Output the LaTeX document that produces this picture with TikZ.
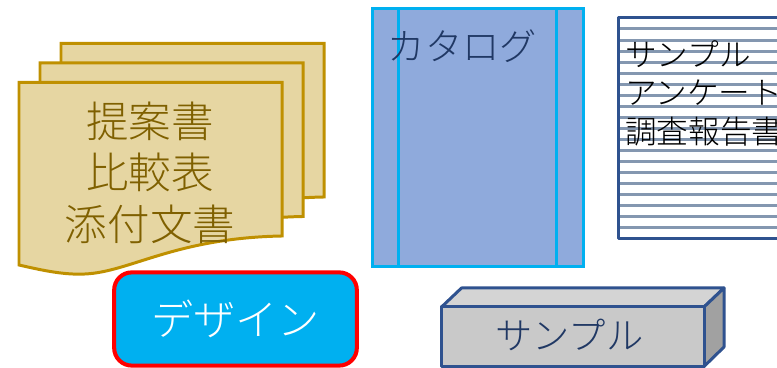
\documentclass[tikz,border=0pt]{standalone}
\usepackage{fontspec}
\newfontfamily\jpfont[UprightFont=* Light]{Noto Sans CJK JP}
\definecolor{docfill}{HTML}{E6D6A2}
\definecolor{docline}{HTML}{BF9000}
\definecolor{doctext}{HTML}{7F6000}
\definecolor{catfill}{HTML}{8FAADC}
\definecolor{catline}{HTML}{00B0F0}
\definecolor{navyline}{HTML}{2F528F}
\definecolor{navytext}{HTML}{203864}
\definecolor{stripe}{HTML}{8497B0}

\begin{document}
\begin{tikzpicture}[x=0.01cm, y=0.01cm,
	sheet/.style={draw=docline, fill=docfill, line width=0.85pt},
	catalog/.style={draw=catline, fill=catfill, line width=0.85pt},
	navyedge/.style={draw=navyline, line width=0.85pt, line join=round}]
	\tikzstyle{every node}+=[inner sep=0pt, font=\jpfont]
	\useasboundingbox (0,0) rectangle (777,-368);
	\clip (0,0) rectangle (777,-368);
	% document stack
	\foreach \dx/\dy in {42/39, 21/19.5, 0/0} {
		\draw [sheet, shift={(\dx,\dy)}] (19,-82.5) -- (282,-82.5) -- (282,-236)
			.. controls (175,-238) and (130,-272) .. (85,-274)
			.. controls (65,-275) and (45,-271) .. (19,-265) -- cycle;
	}
	\node (docs) [text=doctext, align=center, font=\jpfont\fontsize{12.1}{14.65}\selectfont] at (150,-172.5) {提案書\\比較表\\添付文書};
	% catalog
	\draw [catalog] (372,-9) rectangle (583,-267);
	\draw [catalog] (398,-9) -- (398,-267);
	\draw [catalog] (556,-9) -- (556,-267);
	\node (catalog) [text=navytext, font=\jpfont\fontsize{10.6}{12}\selectfont] at (462.5,-46) {カタログ};
	% striped sheet
	\fill [white] (618,-18) rectangle (790,-239);
	\foreach \i in {0,...,18} {
		\draw [stripe, line width=0.85pt] (618,-29-11.05*\i) -- (790,-29-11.05*\i);
	}
	\draw [navyedge] (790,-18) -- (618.5,-18) -- (618.5,-239) -- (790,-239);
	\node (samples) [anchor=west, text=black, align=left, font=\jpfont\fontsize{9}{10.95}\selectfont] at (624.5,-93) {サンプル\\アンケート\\調査報告書};
	% design box
	\node (design) [draw=red, fill=catline, line width=1.15pt, rounded corners=5pt, minimum width=69pt, minimum height=26.5pt, text=white, font=\jpfont\fontsize{12}{14}\selectfont] at (235.5,-319) {デザイン};
	% box
	\draw [navyedge, fill=black!17] (441.5,-307) -- (461.5,-288) -- (724,-288) -- (704,-307) -- cycle;
	\draw [navyedge, fill=black!37] (704,-307) -- (724,-288) -- (724,-347) -- (704,-366.5) -- cycle;
	\draw [navyedge, fill=black!21] (441.5,-307) rectangle (704,-366.5);
	\node (box) [text=navytext, font=\jpfont\fontsize{10.6}{12}\selectfont] at (569.5,-335) {サンプル};
\end{tikzpicture}
\end{document}
